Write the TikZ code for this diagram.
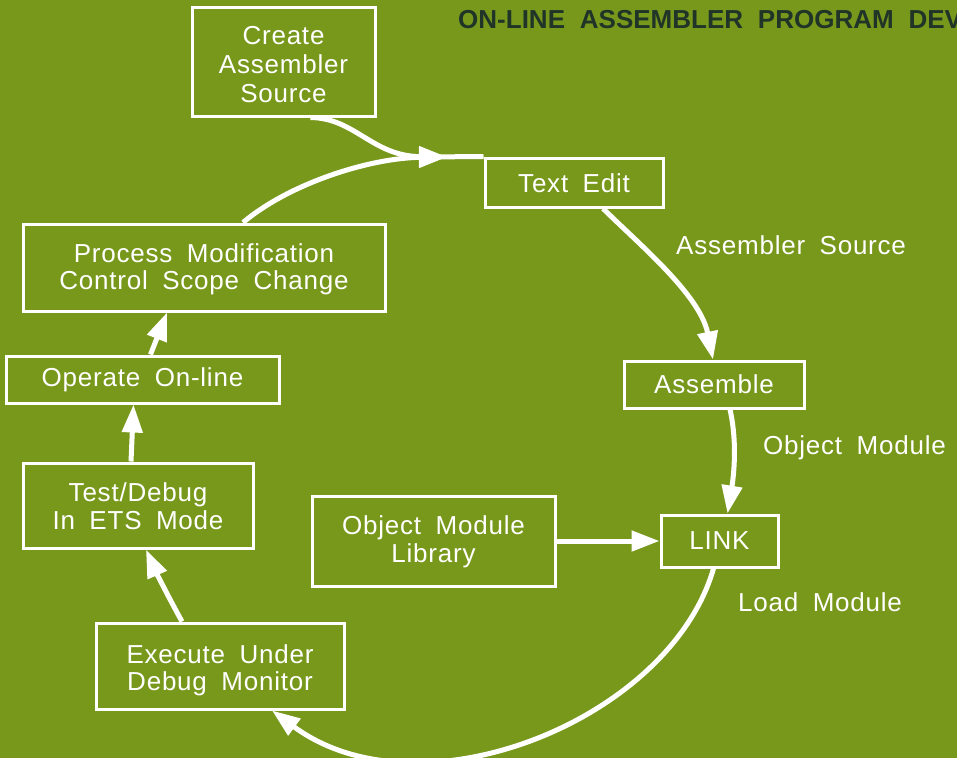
\documentclass[tikz,border=0pt]{standalone}
\usepackage{fontspec}
\setmainfont{Liberation Sans}[LetterSpace=3,WordSpace=1.8]
\newfontfamily\titlefont{Liberation Sans}[WordSpace=2.05]
\usetikzlibrary{arrows.meta}
\definecolor{bggreen}{RGB}{120,152,28}
\definecolor{titlecol}{RGB}{32,52,40}
\newcommand{\lift}[1]{\rule{0pt}{#1}}
\begin{document}
\begin{tikzpicture}[x=1pt,y=-1pt,
  box/.style={draw=white, line width=3pt, text=white, align=center, inner sep=0pt,
    font=\fontsize{26}{27.5}\selectfont},
  lbl/.style={text=white, inner sep=0pt, anchor=west, font=\fontsize{26}{28}\selectfont},
  conn/.style={draw=white, line width=5pt, -{Triangle[length=28pt,width=20pt]}},
  plain/.style={draw=white, line width=5pt}]
\clip (0,0) rectangle (957,758);
\fill[bggreen] (0,0) rectangle (957,758);
% title
\node[anchor=base west, inner sep=0pt, text=titlecol,
  font=\titlefont\bfseries\fontsize{26}{28}\selectfont] (title) at (458,28) {ON-LINE ASSEMBLER PROGRAM DEV};
% boxes
\node[box, minimum width=183pt, minimum height=109pt, font=\fontsize{26}{29}\selectfont] (create) at (283.5,61.5) {\lift{24.6pt}Create\\Assembler\\Source};
\node[box, minimum width=178pt, minimum height=49pt] (textedit) at (574,182.5) {\lift{20.5pt}Text Edit};
\node[box, minimum width=180pt, minimum height=47pt] (assemble) at (714,384.5) {Assemble};
\node[box, minimum width=117pt, minimum height=52pt] (link) at (719.5,541) {LINK};
\node[box, minimum width=243pt, minimum height=90pt] (library) at (433.5,541) {\lift{20pt}Object Module\\Library};
\node[box, minimum width=248pt, minimum height=86pt] (execute) at (220,666) {\lift{27pt}Execute Under\\Debug Monitor};
\node[box, minimum width=230pt, minimum height=85pt] (test) at (138,505.5) {\lift{20.5pt}Test/Debug\\In ETS Mode};
\node[box, minimum width=273pt, minimum height=47pt] (operate) at (142.5,379.5) {Operate On-line};
\node[box, minimum width=362pt, minimum height=87pt] (process) at (204,267.5) {\lift{22.6pt}Process Modification\\Control Scope Change};
% labels
\node[lbl] (lblsrc) at (676,245) {Assembler Source};
\node[lbl] (lblobj) at (763,448) {Object Module};
\node[lbl] (lblload) at (738,602) {Load Module};
% connectors
\coordinate (merge) at (447,157);
\coordinate (mergeback) at (425,157);
\draw[plain] (mergeback) -- (textedit.north west);
\draw[conn] ([xshift=27pt]create.south) .. controls (355,118) and (372,156) .. (merge);
\draw[conn] ([xshift=39pt]process.north) .. controls (290,183) and (370,158) .. (merge);
\draw[conn] ([xshift=29pt]textedit.south) .. controls (640,245) and (700,295) .. ([xshift=-1pt]assemble.north);
\draw[conn] ([xshift=16pt]assemble.south) .. controls (738,445) and (733,480) .. ([xshift=8pt]link.north);
\draw[conn] (library.east) -- (link.west);
\draw[conn] ([xshift=-6pt]link.south) .. controls (670,720) and (420,820) .. ([xshift=52pt]execute.south);
\draw[conn] ([xshift=-38pt]execute.north) .. controls (170,600) and (155,570) .. ([xshift=8pt]test.south);
\draw[conn] ([xshift=-7pt]test.north) -- ([xshift=-9pt]operate.south);
\draw[conn] ([xshift=8pt]operate.north) -- ([xshift=-37pt]process.south);
\end{tikzpicture}
\end{document}
